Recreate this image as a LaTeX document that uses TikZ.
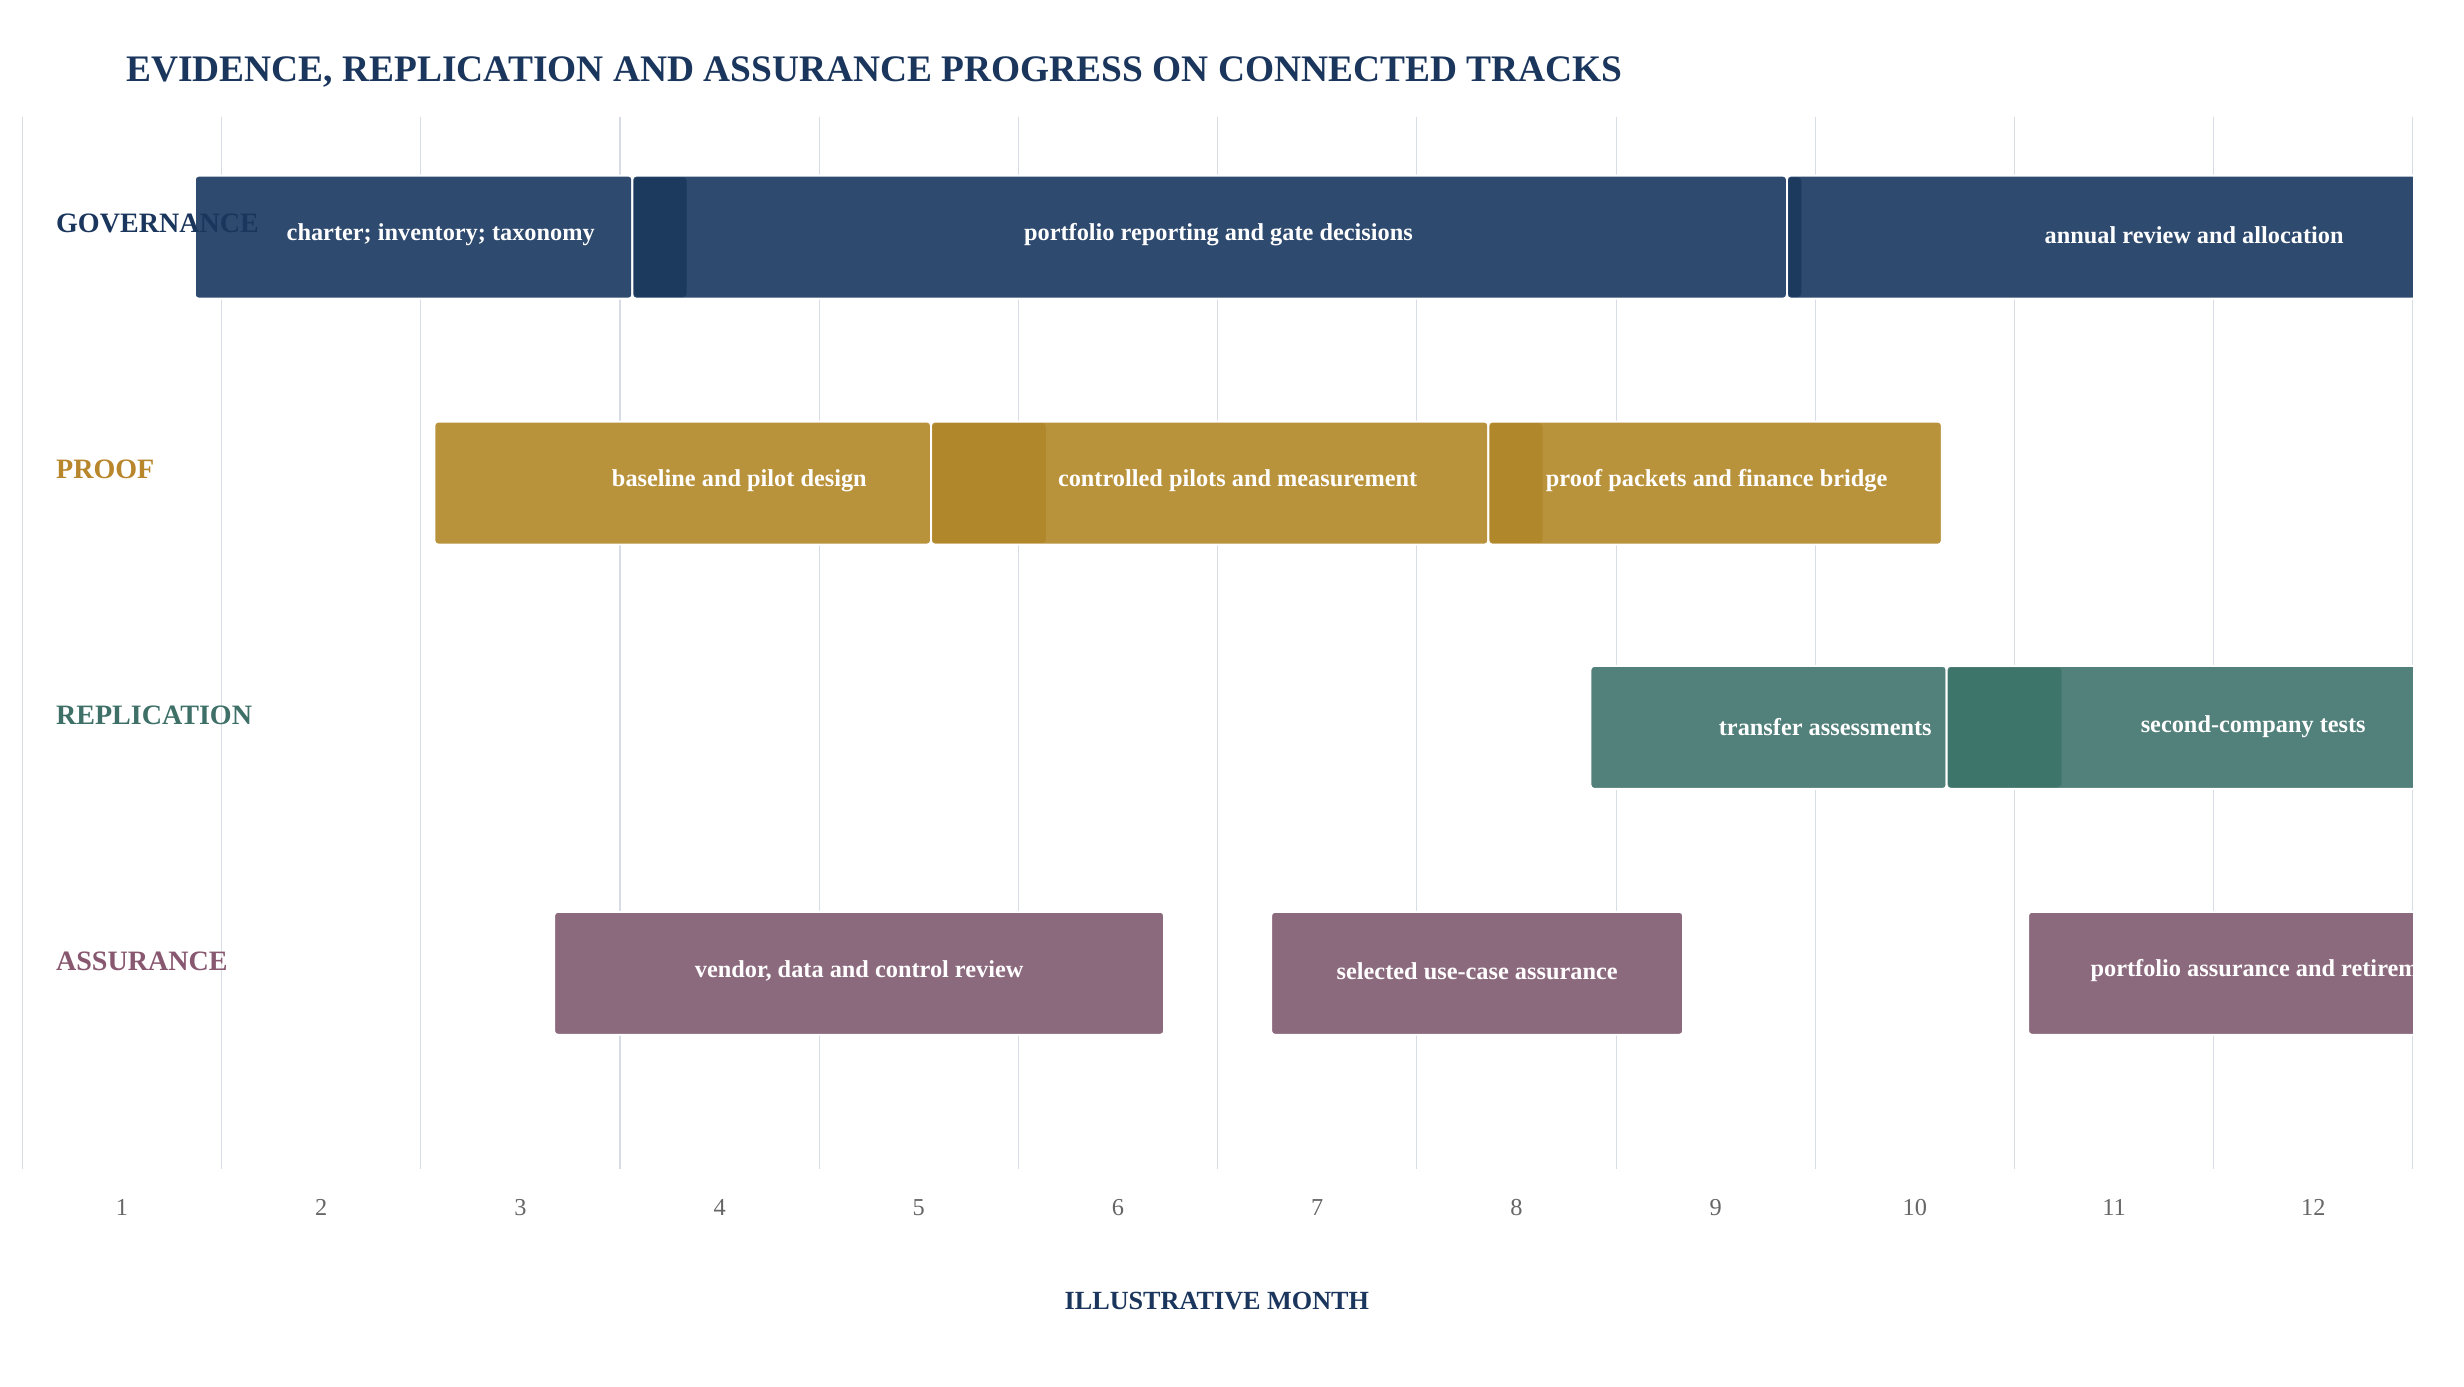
\documentclass[tikz,border=0pt]{standalone}
\usepackage{fontspec}
\setmainfont{Liberation Serif}
\usetikzlibrary{calc, positioning}
\definecolor{govc}{HTML}{2E4A6E}
\definecolor{govd}{HTML}{1B3A5E}
\definecolor{govt}{HTML}{1B365D}
\definecolor{proc}{HTML}{B9923C}
\definecolor{prod}{HTML}{B0872A}
\definecolor{prot}{HTML}{B8862B}
\definecolor{repc}{HTML}{52807A}
\definecolor{repd}{HTML}{3E756B}
\definecolor{rept}{HTML}{3E7068}
\definecolor{assc}{HTML}{8C6A7E}
\definecolor{asst}{HTML}{87586F}
\definecolor{gridc}{HTML}{D8DCE4}
\begin{document}
\begin{tikzpicture}[x=0.03cm, y=-0.03cm,
  bar/.style={draw=white, line width=1pt, rounded corners=2pt},
  strip/.style={rounded corners=2pt},
  bartext/.style={text=white, font=\fontsize{13}{15}\selectfont\bfseries},
  track/.style={anchor=west, font=\fontsize{15}{17}\selectfont\bfseries},
  tick/.style={text=black!60, font=\fontsize{13}{15}\selectfont}]
  \useasboundingbox[fill=white] (0,0) rectangle (1543,868);
  % grid
  \foreach \i in {0,...,12} {
    \draw[gridc, line width=0.6pt] ({14+124.75*\i},73) -- ({14+124.75*\i},732);
  }
  \foreach \m in {1,...,12} {
    \node[tick] (t\m) at ({14+124.75*(\m-0.5)},756) {\m};
  }
  \begin{scope}
    \clip (0,0) rectangle (1511,868);
    % governance
    \fill[bar, govc, draw=white] (122,110) rectangle (396,187);
    \fill[bar, govc, draw=white] (396,110) rectangle (1119,187);
    \fill[strip, govd] (397,111) rectangle (430,186);
    \fill[bar, govc, draw=white] (1119,110) rectangle (1560,187);
    \fill[strip, govd] (1120,111) rectangle (1128,186);
    \node[bartext] (g1) at (276,147) {charter; inventory; taxonomy};
    \node[bartext] (g2) at (763,147) {portfolio reporting and gate decisions};
    \node[bartext] (g3) at (1374,147) {annual review and allocation};
    % proof
    \fill[bar, proc, draw=white] (272,264) rectangle (583,341);
    \fill[bar, proc, draw=white] (583,264) rectangle (932,341);
    \fill[strip, prod] (584,265) rectangle (655,340);
    \fill[bar, proc, draw=white] (932,264) rectangle (1216,341);
    \fill[strip, prod] (933,265) rectangle (966,340);
    \node[bartext] (p1) at (463,301) {baseline and pilot design};
    \node[bartext] (p2) at (775,301) {controlled pilots and measurement};
    \node[bartext] (p3) at (1075,301) {proof packets and finance bridge};
    % replication
    \fill[bar, repc, draw=white] (996,417) rectangle (1219,494);
    \fill[bar, repc, draw=white] (1219,417) rectangle (1560,494);
    \fill[strip, repd] (1220,418) rectangle (1291,493);
    \node[bartext] (r1) at (1143,455) {transfer assessments};
    \node[bartext] (r2) at (1411,455) {second-company tests};
    % assurance
    \fill[bar, assc, draw=white] (347,571) rectangle (729,648);
    \fill[bar, assc, draw=white] (796,571) rectangle (1054,648);
    \fill[bar, assc, draw=white] (1270,571) rectangle (1560,648);
    \node[bartext] (a1) at (538,608) {vendor, data and control review};
    \node[bartext] (a2) at (925,608) {selected use-case assurance};
    \node[bartext, anchor=west] (a3) at (1305,608) {portfolio assurance and retirement};
  \end{scope}
  % track labels
  \node[track, text=govt] (gov) at (31,140) {GOVERNANCE};
  \node[track, text=prot] (pro) at (31,294) {PROOF};
  \node[track, text=rept] (rep) at (31,448) {REPLICATION};
  \node[track, text=asst] (ass) at (31,602) {ASSURANCE};
  \node[anchor=west, text=govt, font=\fontsize{20}{24}\selectfont\bfseries] (title) at (75,45) {EVIDENCE, REPLICATION AND ASSURANCE PROGRESS ON CONNECTED TRACKS};
  \node[text=govt, font=\fontsize{14}{17}\selectfont\bfseries] (xlab) at (762,815) {ILLUSTRATIVE MONTH};
\end{tikzpicture}
\end{document}
